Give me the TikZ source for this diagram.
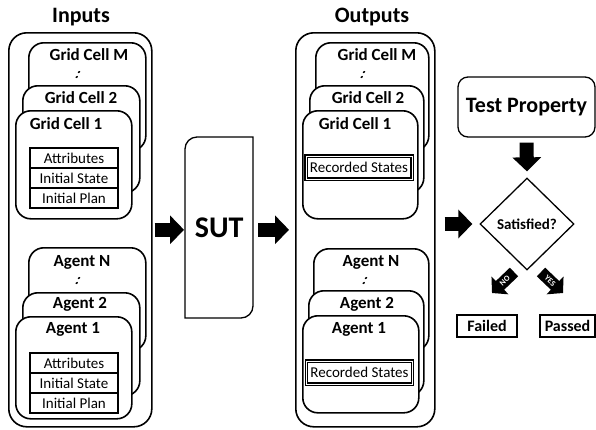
\documentclass[tikz,border=0pt]{standalone}
\usepackage{fontspec}
\setmainfont{Carlito}
\usetikzlibrary{shapes.geometric,arrows.meta}
\tikzset{
  outerbox/.style={draw, line width=1.6pt, rounded corners=18pt, anchor=north west, inner sep=0pt},
  cellbox/.style={draw, fill=white, line width=1.6pt, rounded corners=15pt, anchor=north west, inner sep=0pt},
  titletext/.style={font=\bfseries\fontsize{22}{24}\selectfont, inner sep=0pt},
  celltext/.style={font=\bfseries\fontsize{17}{19}\selectfont, inner sep=0pt},
  dotstext/.style={font=\bfseries\fontsize{15}{15}\selectfont, inner sep=0pt, xslant=0.45},
  tabrow/.style={draw, fill=white, line width=1.3pt, minimum width=88pt, minimum height=20pt, inner sep=0pt, font=\fontsize{15}{17}\selectfont},
  recbox/.style={draw, fill=white, double, double distance=1pt, line width=1.1pt, minimum width=106pt, minimum height=23pt, inner sep=0pt, font=\fontsize{15}{17}\selectfont},
  plainbox/.style={draw, line width=1.3pt, inner sep=0pt, font=\bfseries\fontsize{16}{18}\selectfont},
  blockarrow/.style={line width=14pt, -{Triangle[width=28pt,length=14pt]}},
  smallarrow/.style={line width=12pt, -{Triangle[width=24pt,length=11pt]}},
  arrowlabel/.style={sloped, text=white, inner sep=0pt, font=\bfseries\fontsize{8}{8}\selectfont},
}
\begin{document}
\begin{tikzpicture}[x=1pt,y=-1pt]
\useasboundingbox (0,0) rectangle (596,429);

% ---------------- Inputs ----------------
\node[titletext] (tin) at (81,17) {Inputs};
\node[outerbox, minimum width=143pt, minimum height=394pt] (inputs) at (8,32) {};

\node[cellbox, minimum width=117pt, minimum height=108pt] (igM) at (28,42) {};
\node[celltext] (igMl) at (89,55) {Grid Cell M};
\node[dotstext] (igMd) at (78,75) {:};
\node[cellbox, minimum width=117pt, minimum height=107pt] (ig2) at (22,85) {};
\node[celltext] (ig2l) at (81,98) {Grid Cell 2};
\node[cellbox, minimum width=116pt, minimum height=108pt] (ig1) at (15,110) {};
\node[celltext] (ig1l) at (66,124) {Grid Cell 1};
\node[tabrow] (igA) at (74,158) {Attributes};
\node[tabrow] (igS) at (74,178) {Initial State};
\node[tabrow] (igP) at (74,198) {Initial Plan};

\node[cellbox, minimum width=117pt, minimum height=103pt] (iaN) at (28,247) {};
\node[celltext] (iaNl) at (82,262) {Agent N};
\node[dotstext] (iaNd) at (78,281) {:};
\node[cellbox, minimum width=117pt, minimum height=103pt] (ia2) at (22,292) {};
\node[celltext] (ia2l) at (80,304) {Agent 2};
\node[cellbox, minimum width=116pt, minimum height=102pt] (ia1) at (15,316) {};
\node[celltext] (ia1l) at (73,329) {Agent 1};
\node[tabrow] (iaA) at (74,363) {Attributes};
\node[tabrow] (iaS) at (74,383) {Initial State};
\node[tabrow] (iaP) at (74,403) {Initial Plan};

% ---------------- SUT ----------------
\node[minimum width=68pt, minimum height=181pt, anchor=north west, inner sep=0pt,
      font=\bfseries\fontsize{30}{32}\selectfont] (sut) at (185,137) {SUT};
\draw[line width=1.3pt] (253,137) -- (197,137) arc[start angle=-90, end angle=-180, radius=12]
  -- (185,318) -- (241,318) arc[start angle=90, end angle=0, radius=12] -- cycle;

% ---------------- Outputs ----------------
\node[titletext] (tout) at (372,17) {Outputs};
\node[outerbox, minimum width=139pt, minimum height=394pt] (outputs) at (295,32) {};

\node[cellbox, minimum width=113pt, minimum height=108pt] (ogM) at (315,42) {};
\node[celltext] (ogMl) at (377,55) {Grid Cell M};
\node[dotstext] (ogMd) at (363,75) {:};
\node[cellbox, minimum width=114pt, minimum height=107pt] (og2) at (309,85) {};
\node[celltext] (og2l) at (368,98) {Grid Cell 2};
\node[cellbox, minimum width=115pt, minimum height=108pt] (og1) at (302,110) {};
\node[celltext] (og1l) at (355,124) {Grid Cell 1};
\node[recbox] (ogR) at (359,167.5) {Recorded States};

\node[cellbox, minimum width=115pt, minimum height=102pt] (oaN) at (313,248) {};
\node[celltext] (oaNl) at (371,262) {Agent N};
\node[dotstext] (oaNd) at (365,281) {:};
\node[cellbox, minimum width=115pt, minimum height=105pt] (oa2) at (308,290) {};
\node[celltext] (oa2l) at (367,304) {Agent 2};
\node[cellbox, minimum width=116pt, minimum height=97pt] (oa1) at (302,315) {};
\node[celltext] (oa1l) at (359,329) {Agent 1};
\node[recbox] (oaR) at (359.5,372.5) {Recorded States};

% ---------------- Test ----------------
\node[draw, line width=1.3pt, rounded corners=10pt, minimum width=137pt, minimum height=60pt,
      inner sep=0pt, font=\bfseries\fontsize{22}{24}\selectfont] (tp) at (526.5,107) {Test Property};
\node[diamond, draw, line width=1.3pt, minimum width=94pt, minimum height=92pt, inner sep=0pt,
      font=\bfseries\fontsize{15}{17}\selectfont] (sat) at (527,224) {Satisfied?};
\node[plainbox, minimum width=60pt, minimum height=22pt] (failed) at (487,326) {Failed};
\node[plainbox, minimum width=55pt, minimum height=22pt] (passed) at (567.5,326) {Passed};

\coordinate (noS) at (514,272);
\coordinate (noE) at (492,293);
\coordinate (yesS) at (541,272);
\coordinate (yesE) at (563,293);

% ---------------- Arrows ----------------
\draw[blockarrow, shorten <=2pt, shorten >=1pt] (inputs.east) -- (inputs.east -| sut.west);
\draw[blockarrow, shorten <=5pt, shorten >=6pt] (inputs.east -| sut.east) -- (inputs.east -| outputs.west);
\draw[blockarrow, shorten <=9pt, shorten >=7pt] (outputs.east |- sat.west) -- (sat.west);
\draw[blockarrow, shorten <=5pt, shorten >=6pt] (tp.south) -- (sat.north);
\draw[smallarrow] (noS) -- node[arrowlabel, pos=0.42] {NO} (noE);
\draw[smallarrow] (yesS) -- node[arrowlabel, pos=0.42] {YES} (yesE);
\end{tikzpicture}
\end{document}
